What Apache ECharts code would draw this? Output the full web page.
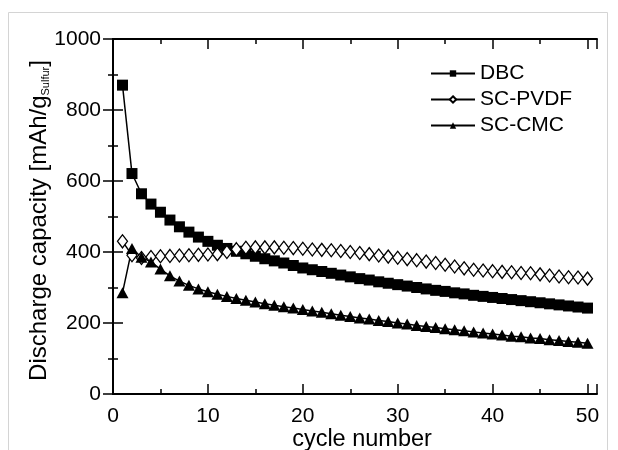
<!DOCTYPE html>
<html>
<head>
<meta charset="utf-8">
<script src="https://cdn.jsdelivr.net/npm/echarts@6/dist/echarts.min.js"></script>
<style>
  html, body { margin: 0; padding: 0; background: #fff; }
  #chart { width: 618px; height: 450px; }
</style>
</head>
<body>
<div id="chart"></div>
<script>
var cycles = []
for (var i = 1; i <= 50; i++) cycles.push(i)

var dbc = [870, 621, 564, 535, 512, 490, 471, 456, 442, 430,
  419, 410, 402, 395, 388, 381, 375, 369, 362, 355,
  350, 345, 340, 335, 330, 325, 321, 316, 312, 308,
  304, 300, 296, 292, 289, 285, 282, 278, 275, 272,
  269, 266, 263, 260, 257, 254, 251, 248, 245, 242]
var scPvdf = [430, 391, 383, 386, 388, 389, 390, 391, 392, 393,
  394, 400, 408, 412, 413, 413, 413, 412, 411, 409,
  407, 406, 405, 403, 400, 397, 394, 390, 387, 384,
  380, 377, 373, 369, 364, 359, 354, 350, 348, 346,
  344, 343, 341, 340, 337, 334, 331, 329, 328, 325]
var scCmc = [285, 410, 385, 372, 352, 333, 318, 306, 296, 288,
  281, 275, 269, 264, 259, 254, 250, 246, 242, 238,
  234, 230, 226, 222, 218, 214, 211, 207, 204, 200,
  197, 193, 190, 187, 184, 181, 178, 175, 172, 169,
  166, 163, 161, 158, 156, 153, 151, 148, 146, 143]

var xTicks = [0, 10, 20, 30, 40, 50]
var yTicks = [0, 200, 400, 600, 800, 1000]

var font = 'Liberation Sans, Arial, sans-serif'

function pairs(vals) {
  return cycles.map(function(c, i) { return [c, vals[i]] })
}

// x axes: one with major ticks (every 10), one with minor ticks (every 5), at bottom and top
function xAxis(pos, step, len, labels) {
  return {
    type: 'value', position: pos, min: 0, max: 51, interval: step,
    axisLine: { show: step === 10, lineStyle: { color: '#000', width: 2 } },
    axisTick: { show: true, inside: true, length: len, lineStyle: { color: '#000', width: 1.5 } },
    axisLabel: {
      show: labels, color: '#000', fontSize: 21, fontFamily: font, margin: 12,
      formatter: function(v) { return xTicks.indexOf(v) >= 0 ? String(v) : '' }
    },
    splitLine: { show: false },
    name: labels ? 'cycle number' : '', nameLocation: 'middle', nameGap: 34,
    nameMoveOverlap: false,
    nameTextStyle: { color: '#000', fontSize: 23.5, fontFamily: font, padding: [0, 0, 0, 14] }
  }
}

function yAxis(pos, labels) {
  return {
    type: 'value', position: pos, min: 0, max: 1000, interval: 200,
    axisLine: { show: true, lineStyle: { color: '#000', width: 2 } },
    axisTick: { show: true, inside: true, length: 10, lineStyle: { color: '#000', width: 1.5 } },
    minorTick: { show: true, splitNumber: 2, length: 5, lineStyle: { color: '#000', width: 1.5 } },
    axisLabel: {
      show: labels, color: '#000', fontSize: 21, fontFamily: font, margin: 12,
      formatter: function(v) { return yTicks.indexOf(v) >= 0 ? String(v) : '' }
    },
    splitLine: { show: false },
    name: labels ? 'Discharge capacity [mAh/g{sub|Sulfur}]' : '',
    nameLocation: 'middle', nameGap: 62,
    nameMoveOverlap: false,
    nameTextStyle: {
      color: '#000', fontSize: 24, fontFamily: font, verticalAlign: 'bottom',
      padding: [0, 8, 0, 0],
      rich: { sub: { fontSize: 11, fontFamily: font, color: '#000', verticalAlign: 'bottom', padding: [5, 0, 0, 0] } }
    }
  }
}

var chart = echarts.init(document.getElementById('chart'))
var option = {
  backgroundColor: '#fff',
  animation: false,
  graphic: [{
    type: 'rect', shape: { x: 8.5, y: 12.5, width: 599, height: 460 },
    style: { fill: 'none', stroke: '#d4d4d4', lineWidth: 1 }, silent: true, z: -1
  }],
  grid: { left: 113, right: 21, top: 39, bottom: 56, containLabel: false, outerBoundsMode: 'none' },
  legend: {
    orient: 'vertical', left: 430, top: 63, padding: 0,
    itemWidth: 44, itemHeight: 8, itemGap: 5,
    textStyle: { color: '#000', fontSize: 21, fontFamily: font, lineHeight: 21 },
    data: ['DBC', 'SC-PVDF', 'SC-CMC']
  },
  xAxis: [
    xAxis('bottom', 10, 10, true),
    xAxis('bottom', 5, 5, false),
    xAxis('top', 10, 10, false),
    xAxis('top', 5, 5, false)
  ],
  yAxis: [yAxis('left', true), yAxis('right', false)],
  series: [
    {
      name: 'DBC', type: 'line', data: pairs(dbc),
      symbol: 'rect', symbolSize: 11,
      lineStyle: { color: '#000', width: 1.5 },
      itemStyle: { color: '#000' }
    },
    {
      name: 'SC-PVDF', type: 'line', data: pairs(scPvdf),
      symbol: 'diamond', symbolSize: [10, 13],
      lineStyle: { color: '#000', width: 1.5 },
      itemStyle: { color: '#fff', borderColor: '#000', borderWidth: 1.3 }
    },
    {
      name: 'SC-CMC', type: 'line', data: pairs(scCmc),
      symbol: 'triangle', symbolSize: [12, 11],
      lineStyle: { color: '#000', width: 1.5 },
      itemStyle: { color: '#000' }
    }
  ]
}
chart.setOption(option)
</script>
</body>
</html>
